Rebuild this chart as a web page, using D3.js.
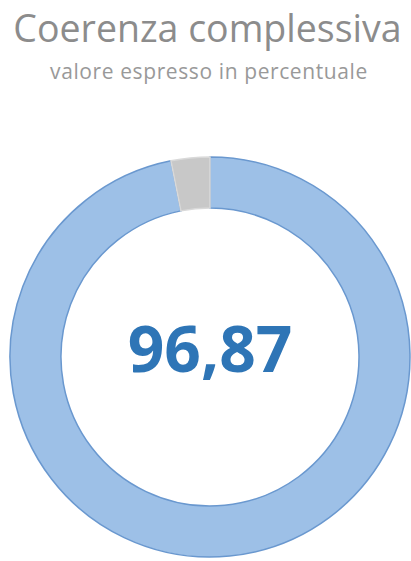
<!DOCTYPE html>
<html>
<head>
<meta charset="utf-8">
<script src="https://cdn.jsdelivr.net/npm/d3@7"></script>
<style>
  html, body { margin: 0; padding: 0; background: #ffffff; }
  svg { display: block; }
</style>
</head>
<body>
<svg id="chart" width="411" height="561"></svg>
<script>
// Overall coherence score, split into the coherent share and the remainder
const categories = ["Coerente", "Non coerente"];
const values = [96.87, 3.13];
const sliceColors = ["#9dc0e7", "#c8c8c8"];
const strokeColors = ["#6a98cf", "#d9d9d9"];
const titleText = "Coerenza complessiva";
const subtitleText = "valore espresso in percentuale";
const centerLabel = "96,87";

const width = 411, height = 561;
const cx = 210, cy = 357;
const outerR = 200, innerR = 149;

const svg = d3.select("#chart");

svg.append("text")
  .attr("x", 207.5)
  .attr("y", 42)
  .attr("text-anchor", "middle")
  .attr("font-family", "'Open Sans', sans-serif")
  .attr("font-size", 37.5)
  .attr("fill", "#8c8c8c")
  .text(titleText);

svg.append("text")
  .attr("x", 209)
  .attr("y", 79)
  .attr("text-anchor", "middle")
  .attr("font-family", "'Open Sans', sans-serif")
  .attr("font-size", 21)
  .attr("letter-spacing", 0.6)
  .attr("fill", "#999999")
  .text(subtitleText);

const pie = d3.pie().sort(null).value(d => d.value);
const arc = d3.arc().innerRadius(innerR).outerRadius(outerR);

const data = categories.map((c, i) => ({ category: c, value: values[i], i }));

const g = svg.append("g").attr("transform", `translate(${cx},${cy})`);

g.selectAll("path")
  .data(pie(data))
  .join("path")
  .attr("d", arc)
  .attr("fill", d => sliceColors[d.data.i])
  .attr("stroke", d => strokeColors[d.data.i])
  .attr("stroke-width", 1.5);

g.append("text")
  .attr("x", 0)
  .attr("y", 15)
  .attr("text-anchor", "middle")
  .attr("font-family", "'Open Sans', sans-serif")
  .attr("font-weight", "bold")
  .attr("font-size", 64)
  .attr("fill", "#2e75b6")
  .text(centerLabel);
</script>
</body>
</html>
